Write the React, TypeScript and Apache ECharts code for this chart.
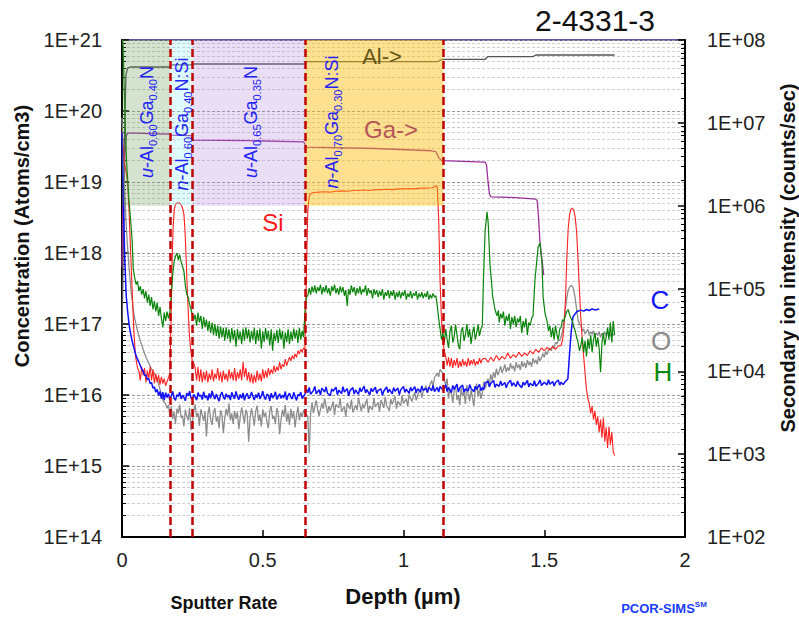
import React, { useEffect, useRef } from 'react';
import * as echarts from 'echarts';

const FONT = '"Liberation Sans", Arial, Helvetica, sans-serif';

// Layer boundaries (µm)
const layerBounds = [0, 0.17, 0.25, 0.65, 1.142];
const layerColors = [
  'rgba(87,139,67,0.25)',
  'rgba(128,240,240,0.25)',
  'rgba(167,123,219,0.25)',
  'rgba(253,186,11,0.45)',
];

const xTicks = [0, 0.5, 1, 1.5, 2];

// Hydrogen (atoms/cm3)
const hProfile: [number, number][] = [
  [0.000, 1.5e21], [0.004, 8e20], [0.010, 1e20], [0.016, 2e19], [0.024, 6e18], [0.032, 2.5e18], [0.036, 1.5e18], [0.040, 6e17],
  [0.045, 4.5e17], [0.050, 3.6e17], [0.055, 4.0e17], [0.060, 2.9e17], [0.065, 3.4e17], [0.070, 2.6e17], [0.075, 3.1e17], [0.080, 2.3e17],
  [0.085, 2.9e17], [0.090, 2.0e17], [0.095, 2.6e17], [0.100, 1.8e17], [0.105, 2.4e17], [0.110, 1.6e17], [0.115, 2.1e17], [0.120, 1.5e17],
  [0.125, 2.0e17], [0.130, 1.3e17], [0.135, 1.75e17], [0.140, 1.2e17], [0.145, 9.0e16], [0.150, 1.45e17], [0.155, 1.1e17], [0.160, 1.5e17],
  [0.165, 1.2e17], [0.170, 1.45e17], [0.175, 2.5e17], [0.180, 5e17], [0.185, 7.5e17], [0.190, 9e17], [0.195, 1.0e18], [0.200, 8.0e17],
  [0.205, 9.5e17], [0.210, 7.5e17], [0.215, 6.5e17], [0.220, 5.5e17], [0.225, 3.5e17], [0.230, 2.6e17], [0.235, 2.4e17], [0.240, 1.9e17],
  [0.245, 1.6e17], [0.250, 1.35e17], [0.255, 1.15e17], [0.26, 1.35e17], [0.265, 9.5e16], [0.27, 1.45e17], [0.275, 1.05e17], [0.28, 1.3e17],
  [0.285, 8.5e16], [0.29, 1.25e17], [0.295, 9.0e16], [0.30, 1.15e17], [0.305, 8.0e16], [0.31, 1.1e17], [0.315, 7.5e16], [0.32, 1.05e17],
  [0.325, 7.0e16], [0.33, 1.0e17], [0.335, 6.8e16], [0.34, 9.5e16], [0.345, 6.2e16], [0.35, 9.2e16], [0.355, 6.5e16], [0.36, 8.8e16],
  [0.365, 5.8e16], [0.37, 9.0e16], [0.375, 6.2e16], [0.38, 8.5e16], [0.385, 5.5e16], [0.39, 8.8e16], [0.395, 6.0e16], [0.40, 8.2e16],
  [0.405, 4.8e16], [0.41, 8.5e16], [0.415, 6.0e16], [0.42, 7.8e16], [0.425, 5.2e16], [0.43, 8.6e16], [0.435, 5.8e16], [0.44, 9.0e16],
  [0.445, 6.2e16], [0.45, 8.4e16], [0.455, 5.5e16], [0.46, 8.0e16], [0.465, 6.0e16], [0.47, 8.8e16], [0.475, 5.2e16], [0.48, 8.2e16],
  [0.485, 5.8e16], [0.49, 8.6e16], [0.495, 4.5e16], [0.50, 7.8e16], [0.505, 5.6e16], [0.51, 8.8e16], [0.515, 6.0e16], [0.52, 8.0e16],
  [0.525, 5.0e16], [0.53, 8.4e16], [0.535, 4.2e16], [0.54, 7.5e16], [0.545, 5.8e16], [0.55, 8.2e16], [0.555, 5.4e16], [0.56, 8.6e16],
  [0.565, 6.0e16], [0.57, 8.0e16], [0.575, 4.5e16], [0.58, 7.6e16], [0.585, 5.6e16], [0.59, 8.4e16], [0.595, 5.2e16], [0.60, 7.8e16],
  [0.605, 5.8e16], [0.61, 8.6e16], [0.615, 6.2e16], [0.62, 8.2e16], [0.625, 5.4e16], [0.63, 8.8e16], [0.635, 6.0e16], [0.64, 8.0e16],
  [0.645, 6.5e16], [0.650, 1.5e17], [0.655, 2.4e17], [0.66, 2.5e17], [0.665, 3.2e17], [0.67, 2.6e17], [0.675, 3.4e17], [0.68, 2.8e17],
  [0.685, 3.5e17], [0.69, 2.7e17], [0.695, 3.3e17], [0.70, 2.9e17], [0.705, 3.6e17], [0.71, 2.6e17], [0.715, 3.3e17], [0.72, 2.8e17],
  [0.725, 3.5e17], [0.73, 2.7e17], [0.735, 3.2e17], [0.74, 2.5e17], [0.745, 3.4e17], [0.75, 2.9e17], [0.755, 3.6e17], [0.76, 2.7e17],
  [0.765, 3.2e17], [0.77, 2.6e17], [0.775, 3.4e17], [0.78, 2.8e17], [0.785, 3.3e17], [0.79, 2.5e17], [0.795, 3.0e17], [0.80, 1.8e17],
  [0.805, 3.1e17], [0.81, 2.6e17], [0.815, 3.5e17], [0.82, 2.8e17], [0.825, 3.3e17], [0.83, 2.5e17], [0.835, 3.2e17], [0.84, 2.7e17],
  [0.845, 3.4e17], [0.85, 2.6e17], [0.855, 3.1e17], [0.86, 2.8e17], [0.865, 3.5e17], [0.87, 2.5e17], [0.875, 3.2e17], [0.88, 2.7e17],
  [0.885, 3.0e17], [0.89, 2.3e17], [0.895, 3.1e17], [0.90, 2.6e17], [0.905, 3.0e17], [0.91, 2.4e17], [0.915, 2.9e17], [0.92, 2.5e17],
  [0.925, 3.1e17], [0.93, 2.2e17], [0.935, 2.8e17], [0.94, 2.5e17], [0.945, 3.0e17], [0.95, 2.3e17], [0.955, 2.9e17], [0.96, 2.5e17],
  [0.965, 3.0e17], [0.97, 2.2e17], [0.975, 2.8e17], [0.98, 2.4e17], [0.985, 2.9e17], [0.99, 2.3e17], [0.995, 2.8e17], [1.00, 2.5e17],
  [1.005, 3.0e17], [1.01, 2.2e17], [1.015, 2.7e17], [1.02, 2.4e17], [1.025, 2.9e17], [1.03, 2.3e17], [1.035, 2.7e17], [1.04, 2.5e17],
  [1.045, 2.9e17], [1.05, 2.2e17], [1.055, 2.7e17], [1.06, 2.4e17], [1.065, 2.8e17], [1.07, 2.3e17], [1.075, 2.7e17], [1.08, 2.4e17],
  [1.085, 2.9e17], [1.09, 2.2e17], [1.095, 2.6e17], [1.10, 2.3e17], [1.105, 2.7e17], [1.11, 2.4e17], [1.115, 2.5e17], [1.12, 1.8e17],
  [1.125, 1.2e17], [1.13, 8.5e16], [1.135, 6.0e16], [1.14, 7.5e16], [1.145, 5.5e16], [1.15, 8.5e16], [1.155, 6.0e16], [1.16, 4.6e16],
  [1.165, 7.8e16], [1.17, 9.5e16], [1.175, 5.5e16], [1.18, 6.5e16], [1.185, 9.8e16], [1.19, 7.0e16], [1.195, 5.0e16], [1.20, 4.4e16],
  [1.205, 8.0e16], [1.21, 9.0e16], [1.215, 5.8e16], [1.22, 7.0e16], [1.225, 1.0e17], [1.23, 6.5e16], [1.235, 8.5e16], [1.24, 5.2e16],
  [1.245, 7.5e16], [1.25, 9.2e16], [1.255, 6.0e16], [1.26, 7.5e16], [1.265, 9.8e16], [1.27, 6.8e16], [1.275, 8.5e16], [1.28, 9.5e16],
  [1.284, 4.2e17], [1.29, 2.1e18], [1.297, 3.8e18], [1.301, 2.6e18], [1.307, 7.2e17], [1.317, 2.4e17], [1.325, 1.6e17], [1.332, 1.3e17],
  [1.337, 1.55e17], [1.34, 1.05e17], [1.345, 1.4e17], [1.35, 1.2e17], [1.355, 1.5e17], [1.36, 9.5e16], [1.365, 1.3e17], [1.37, 1.1e17],
  [1.375, 1.4e17], [1.38, 8.5e16], [1.385, 1.25e17], [1.39, 1.0e17], [1.395, 1.3e17], [1.40, 9.0e16], [1.405, 1.2e17], [1.41, 1.05e17],
  [1.415, 1.3e17], [1.42, 7.5e16], [1.425, 1.1e17], [1.43, 9.0e16], [1.435, 1.2e17], [1.44, 7.0e16], [1.445, 1.05e17], [1.45, 9.5e16],
  [1.455, 1.2e17], [1.46, 1.3e17], [1.467, 4.2e17], [1.478, 1.2e18], [1.485, 1.38e18], [1.492, 7.2e17], [1.496, 2.4e17], [1.503, 1.4e17],
  [1.51, 1.1e17], [1.515, 8.0e16], [1.52, 9.5e16], [1.525, 6.5e16], [1.53, 8.8e16], [1.535, 6.0e16], [1.54, 9.5e16], [1.545, 7.0e16],
  [1.55, 6.0e16], [1.555, 8.5e16], [1.56, 9.0e16], [1.565, 1.15e17], [1.57, 1.1e17], [1.575, 1.3e17], [1.58, 1.5e17], [1.585, 1.6e17],
  [1.59, 1.35e17], [1.595, 1.2e17], [1.60, 1.1e17], [1.605, 9.0e16], [1.61, 8.0e16], [1.615, 6.5e16], [1.62, 5.5e16], [1.625, 4.2e16],
  [1.63, 5.0e16], [1.635, 6.5e16], [1.64, 4.0e16], [1.645, 5.8e16], [1.65, 3.5e16], [1.655, 6.2e16], [1.66, 4.5e16], [1.665, 7.0e16],
  [1.67, 4.0e16], [1.675, 6.0e16], [1.68, 7.5e16], [1.685, 4.8e16], [1.69, 6.5e16], [1.695, 4.5e16], [1.70, 2.1e16], [1.705, 5.5e16],
  [1.71, 7.5e16], [1.715, 5.0e16], [1.72, 6.5e16], [1.725, 9.0e16], [1.73, 6.0e16], [1.735, 1.05e17], [1.74, 5.5e16], [1.745, 1.1e17],
  [1.75, 7.0e16],
];

// Silicon (atoms/cm3)
const siProfile: [number, number][] = [
  [0.000, 5e19], [0.008, 2e19], [0.020, 1e19], [0.025, 4e18], [0.030, 1.2e18], [0.036, 3e17], [0.042, 8e16], [0.048, 3.5e16],
  [0.055, 2.4e16], [0.060, 2.2e16], [0.065, 1.6e16], [0.070, 2.5e16], [0.075, 1.9e16], [0.080, 2.4e16], [0.085, 1.5e16], [0.090, 2.2e16],
  [0.095, 1.7e16], [0.100, 2.5e16], [0.105, 1.6e16], [0.110, 2.3e16], [0.115, 1.45e16], [0.120, 2.0e16], [0.125, 1.5e16], [0.130, 1.9e16],
  [0.135, 1.4e16], [0.140, 1.8e16], [0.145, 1.45e16], [0.150, 1.7e16], [0.155, 1.35e16], [0.160, 1.55e16], [0.165, 1.75e16], [0.170, 2.0e16],
  [0.174, 1e17], [0.178, 8e17], [0.182, 2.5e18], [0.186, 4.2e18], [0.190, 4.8e18], [0.195, 5.1e18], [0.200, 5.1e18], [0.205, 5.0e18],
  [0.210, 4.8e18], [0.215, 4.3e18], [0.220, 3.5e18], [0.224, 2e18], [0.228, 8e17], [0.232, 3e17], [0.236, 1.3e17], [0.240, 6.5e16],
  [0.245, 4e16], [0.250, 3e16], [0.255, 2.8e16], [0.26, 2.4e16], [0.265, 1.6e16], [0.27, 2.5e16], [0.275, 1.55e16], [0.28, 2.3e16],
  [0.285, 1.5e16], [0.29, 2.1e16], [0.295, 1.6e16], [0.30, 2.2e16], [0.305, 1.5e16], [0.31, 2.0e16], [0.315, 1.65e16], [0.32, 2.3e16],
  [0.325, 1.55e16], [0.33, 2.0e16], [0.335, 1.7e16], [0.34, 2.4e16], [0.345, 1.6e16], [0.35, 2.1e16], [0.355, 1.5e16], [0.36, 2.2e16],
  [0.365, 1.65e16], [0.37, 2.0e16], [0.375, 1.55e16], [0.38, 2.3e16], [0.385, 1.7e16], [0.39, 2.1e16], [0.395, 1.6e16], [0.40, 2.4e16],
  [0.405, 1.55e16], [0.41, 2.1e16], [0.415, 1.7e16], [0.42, 2.3e16], [0.425, 1.6e16], [0.43, 2.9e16], [0.435, 1.8e16], [0.44, 2.4e16],
  [0.445, 1.6e16], [0.45, 2.1e16], [0.455, 1.5e16], [0.46, 2.0e16], [0.465, 1.45e16], [0.47, 1.9e16], [0.475, 1.5e16], [0.48, 2.2e16],
  [0.485, 1.6e16], [0.49, 2.0e16], [0.495, 1.55e16], [0.50, 2.3e16], [0.505, 1.7e16], [0.51, 2.2e16], [0.515, 1.75e16], [0.52, 2.4e16],
  [0.525, 1.9e16], [0.53, 2.3e16], [0.535, 2.0e16], [0.54, 2.6e16], [0.545, 2.1e16], [0.55, 2.5e16], [0.555, 2.2e16], [0.56, 2.9e16],
  [0.565, 2.3e16], [0.57, 2.7e16], [0.575, 2.5e16], [0.58, 3.2e16], [0.585, 2.6e16], [0.59, 3.0e16], [0.595, 3.4e16], [0.60, 3.0e16],
  [0.605, 3.6e16], [0.61, 3.2e16], [0.615, 3.8e16], [0.62, 3.4e16], [0.625, 4.2e16], [0.63, 3.8e16], [0.635, 4.4e16], [0.64, 4.0e16],
  [0.645, 4.6e16], [0.650, 4.5e16], [0.655, 5e17], [0.660, 4e18], [0.665, 6.2e18], [0.670, 6.9e18], [0.68, 7.1e18], [0.70, 7.2e18],
  [0.72, 7.3e18], [0.74, 7.2e18], [0.76, 7.4e18], [0.78, 7.5e18], [0.80, 7.4e18], [0.82, 7.6e18], [0.84, 7.6e18], [0.86, 7.7e18],
  [0.88, 7.6e18], [0.90, 7.8e18], [0.92, 7.8e18], [0.94, 7.9e18], [0.96, 7.8e18], [0.98, 8.0e18], [1.00, 8.0e18], [1.02, 8.1e18],
  [1.04, 8.0e18], [1.06, 8.2e18], [1.08, 8.2e18], [1.10, 8.3e18], [1.11, 8.5e18], [1.115, 8.9e18], [1.12, 8.4e18], [1.125, 3e18],
  [1.13, 4e17], [1.135, 1.1e17], [1.14, 5.5e16], [1.145, 4.2e16], [1.15, 3.5e16], [1.155, 2.6e16], [1.16, 3.4e16], [1.165, 2.5e16],
  [1.17, 3.3e16], [1.175, 2.4e16], [1.18, 3.1e16], [1.185, 2.6e16], [1.19, 3.3e16], [1.195, 2.4e16], [1.20, 3.0e16], [1.205, 2.5e16],
  [1.21, 3.2e16], [1.215, 2.6e16], [1.22, 3.0e16], [1.225, 2.5e16], [1.23, 3.3e16], [1.235, 2.6e16], [1.24, 3.1e16], [1.245, 2.7e16],
  [1.25, 3.2e16], [1.255, 2.6e16], [1.26, 3.0e16], [1.265, 2.7e16], [1.27, 3.3e16], [1.275, 2.8e16], [1.28, 3.2e16], [1.29, 3.3e16],
  [1.30, 2.9e16], [1.31, 3.4e16], [1.32, 3.0e16], [1.33, 3.6e16], [1.34, 3.1e16], [1.35, 3.5e16], [1.36, 3.2e16], [1.37, 3.9e16],
  [1.38, 3.3e16], [1.39, 3.7e16], [1.40, 3.4e16], [1.41, 4.0e16], [1.42, 3.5e16], [1.43, 3.9e16], [1.44, 3.6e16], [1.45, 4.2e16],
  [1.46, 3.8e16], [1.47, 4.4e16], [1.48, 4.0e16], [1.49, 4.6e16], [1.50, 4.2e16], [1.51, 4.7e16], [1.52, 4.3e16], [1.53, 4.8e16],
  [1.54, 4.4e16], [1.55, 4.9e16], [1.56, 5.0e16], [1.565, 6e16], [1.57, 9e16], [1.575, 2e17], [1.58, 8e17], [1.585, 2.2e18],
  [1.59, 3.5e18], [1.595, 4.1e18], [1.60, 4.3e18], [1.605, 4.0e18], [1.61, 3.2e18], [1.615, 2.0e18], [1.62, 8e17], [1.625, 3e17],
  [1.63, 1.2e17], [1.635, 6e16], [1.64, 3.5e16], [1.645, 2e16], [1.65, 1.2e16], [1.655, 9e15], [1.66, 7.5e15], [1.665, 5.5e15],
  [1.67, 7e15], [1.675, 4.5e15], [1.68, 6e15], [1.685, 3.8e15], [1.69, 5e15], [1.695, 3e15], [1.70, 4.5e15], [1.705, 2.5e15],
  [1.71, 4.8e15], [1.715, 2.2e15], [1.72, 3.5e15], [1.725, 1.8e15], [1.73, 3.6e15], [1.735, 2.0e15], [1.74, 3.0e15], [1.745, 1.6e15],
  [1.75, 1.4e15],
];

// Carbon (atoms/cm3)
const cProfile: [number, number][] = [
  [0.000, 5e19], [0.005, 5e18], [0.010, 8e17], [0.015, 2.5e17], [0.020, 1.5e17], [0.025, 1.0e17], [0.030, 7.5e16], [0.035, 6e16],
  [0.040, 5e16], [0.045, 4.2e16], [0.050, 3.6e16], [0.055, 3.2e16], [0.060, 2.9e16], [0.065, 2.6e16], [0.070, 2.3e16], [0.075, 2.2e16],
  [0.080, 1.9e16], [0.085, 1.9e16], [0.090, 1.65e16], [0.095, 1.7e16], [0.100, 1.45e16], [0.105, 1.5e16], [0.110, 1.25e16], [0.115, 1.3e16],
  [0.120, 1.1e16], [0.125, 1.2e16], [0.130, 9.8e15], [0.135, 1.12e16], [0.140, 8.8e15], [0.145, 1.1e16], [0.150, 8.5e15], [0.155, 1.08e16],
  [0.16, 9.2e15], [0.165, 1.04e16], [0.17, 8.6e15], [0.175, 9.8e15], [0.18, 1.12e16], [0.185, 9.0e15], [0.19, 8.4e15], [0.195, 1.01e16],
  [0.20, 9.5e15], [0.205, 1.1e16], [0.21, 8.8e15], [0.215, 9.9e15], [0.22, 9.3e15], [0.225, 8.3e15], [0.23, 1.06e16], [0.235, 9.7e15],
  [0.24, 1.13e16], [0.245, 9.1e15], [0.25, 8.7e15], [0.255, 1.02e16], [0.26, 9.4e15], [0.265, 8.5e15], [0.27, 1.08e16], [0.275, 9.6e15],
  [0.28, 1.0e16], [0.285, 8.6e15], [0.29, 1.11e16], [0.295, 9.2e15], [0.30, 9.8e15], [0.305, 8.4e15], [0.31, 1.05e16], [0.315, 9.0e15],
  [0.32, 1.14e16], [0.325, 9.7e15], [0.33, 8.8e15], [0.335, 1.03e16], [0.34, 9.1e15], [0.345, 8.2e15], [0.35, 1.0e16], [0.355, 1.1e16],
  [0.36, 9.4e15], [0.365, 8.7e15], [0.37, 1.04e16], [0.375, 9.3e15], [0.38, 9.9e15], [0.385, 8.5e15], [0.39, 1.09e16], [0.395, 9.6e15],
  [0.40, 8.9e15], [0.405, 1.12e16], [0.41, 9.5e15], [0.415, 8.6e15], [0.42, 1.02e16], [0.425, 9.0e15], [0.43, 1.07e16], [0.435, 8.4e15],
  [0.44, 9.8e15], [0.445, 1.05e16], [0.45, 8.9e15], [0.455, 9.3e15], [0.46, 1.1e16], [0.465, 9.6e15], [0.47, 8.5e15], [0.475, 1.01e16],
  [0.48, 9.2e15], [0.485, 1.08e16], [0.49, 8.8e15], [0.495, 9.7e15], [0.50, 1.13e16], [0.505, 9.4e15], [0.51, 8.6e15], [0.515, 1.03e16],
  [0.52, 9.9e15], [0.525, 8.3e15], [0.53, 1.06e16], [0.535, 9.1e15], [0.54, 9.7e15], [0.545, 1.11e16], [0.55, 8.7e15], [0.555, 9.5e15],
  [0.56, 1.04e16], [0.565, 8.9e15], [0.57, 1.0e16], [0.575, 9.2e15], [0.58, 1.12e16], [0.585, 8.5e15], [0.59, 9.8e15], [0.595, 1.06e16],
  [0.60, 9.3e15], [0.605, 8.8e15], [0.61, 1.09e16], [0.615, 9.5e15], [0.62, 8.4e15], [0.625, 1.02e16], [0.63, 9.7e15], [0.635, 1.1e16],
  [0.64, 8.9e15], [0.645, 9.6e15], [0.65, 1.03e16], [0.655, 1.2e16], [0.66, 1.08e16], [0.665, 1.28e16], [0.67, 1.02e16], [0.68, 1.16e16],
  [0.685, 1.32e16], [0.69, 1.04e16], [0.70, 1.19e16], [0.705, 1.0e16], [0.71, 1.25e16], [0.72, 1.1e16], [0.725, 1.3e16], [0.73, 1.06e16],
  [0.74, 9.8e15], [0.745, 1.22e16], [0.75, 1.13e16], [0.76, 1.29e16], [0.765, 1.01e16], [0.77, 1.17e16], [0.78, 1.05e16], [0.785, 1.31e16],
  [0.79, 1.1e16], [0.80, 1.23e16], [0.805, 9.7e15], [0.81, 1.15e16], [0.82, 1.27e16], [0.825, 1.03e16], [0.83, 1.18e16], [0.84, 1.02e16],
  [0.845, 1.26e16], [0.85, 1.11e16], [0.86, 1.33e16], [0.865, 1.07e16], [0.87, 1.19e16], [0.88, 1.0e16], [0.885, 1.24e16], [0.89, 1.12e16],
  [0.90, 1.29e16], [0.905, 1.05e16], [0.91, 1.16e16], [0.92, 1.22e16], [0.925, 9.9e15], [0.93, 1.14e16], [0.94, 1.3e16], [0.945, 1.08e16],
  [0.95, 1.2e16], [0.96, 1.04e16], [0.965, 1.27e16], [0.97, 1.13e16], [0.98, 1.25e16], [0.985, 1.01e16], [0.99, 1.18e16], [1.00, 1.32e16],
  [1.005, 1.09e16], [1.01, 1.21e16], [1.02, 1.06e16], [1.025, 1.28e16], [1.03, 1.14e16], [1.04, 1.31e16], [1.045, 1.07e16], [1.05, 1.23e16],
  [1.06, 1.1e16], [1.065, 1.34e16], [1.07, 1.16e16], [1.08, 1.24e16], [1.085, 1.08e16], [1.09, 1.29e16], [1.10, 1.15e16], [1.105, 1.36e16],
  [1.11, 1.12e16], [1.12, 1.28e16], [1.125, 1.1e16], [1.13, 1.32e16], [1.14, 1.18e16], [1.145, 1.25e16], [1.15, 1.4e16], [1.155, 1.12e16],
  [1.16, 1.28e16], [1.17, 1.08e16], [1.175, 1.36e16], [1.18, 1.2e16], [1.19, 1.42e16], [1.195, 1.1e16], [1.20, 1.26e16], [1.21, 1.38e16],
  [1.215, 1.09e16], [1.22, 1.22e16], [1.23, 1.14e16], [1.235, 1.4e16], [1.24, 1.24e16], [1.25, 1.11e16], [1.255, 1.33e16], [1.26, 1.2e16],
  [1.27, 1.41e16], [1.275, 1.15e16], [1.28, 1.27e16], [1.285, 1.18e16], [1.29, 1.48e16], [1.30, 1.56e16], [1.305, 1.3e16], [1.31, 1.46e16],
  [1.32, 1.6e16], [1.325, 1.28e16], [1.33, 1.42e16], [1.34, 1.32e16], [1.345, 1.58e16], [1.35, 1.36e16], [1.36, 1.5e16], [1.365, 1.26e16],
  [1.37, 1.44e16], [1.38, 1.62e16], [1.385, 1.34e16], [1.39, 1.49e16], [1.40, 1.31e16], [1.405, 1.57e16], [1.41, 1.4e16], [1.42, 1.27e16],
  [1.425, 1.52e16], [1.43, 1.38e16], [1.44, 1.6e16], [1.445, 1.3e16], [1.45, 1.46e16], [1.46, 1.35e16], [1.465, 1.59e16], [1.47, 1.33e16],
  [1.48, 1.48e16], [1.485, 1.63e16], [1.49, 1.36e16], [1.50, 1.51e16], [1.51, 1.39e16], [1.515, 1.64e16], [1.52, 1.42e16], [1.53, 1.55e16],
  [1.535, 1.34e16], [1.54, 1.5e16], [1.55, 1.62e16], [1.555, 1.38e16], [1.56, 1.52e16], [1.567, 1.4e16], [1.575, 1.55e16], [1.584, 1.7e16],
  [1.59, 3.9e16], [1.596, 8e16], [1.602, 1.26e17], [1.616, 1.5e17], [1.63, 1.57e17], [1.64, 1.52e17], [1.65, 1.6e17], [1.66, 1.55e17],
  [1.67, 1.63e17], [1.68, 1.58e17], [1.695, 1.63e17],
];

// Oxygen (atoms/cm3)
const oProfile: [number, number][] = [
  [0.000, 8e19], [0.008, 1e19], [0.016, 2e18], [0.024, 7e17], [0.032, 3e17], [0.040, 1.6e17], [0.046, 1.15e17], [0.055, 8e16],
  [0.065, 5.8e16], [0.075, 4.4e16], [0.085, 3.4e16], [0.095, 2.8e16], [0.105, 2.3e16], [0.115, 2.0e16], [0.125, 1.7e16], [0.135, 1.2e16],
  [0.145, 8.5e15], [0.155, 7.5e15], [0.160, 6.5e15], [0.165, 7.2e15], [0.17, 5.2e15], [0.175, 6.9e15], [0.18, 4.6e15], [0.185, 5.8e15],
  [0.19, 3.9e15], [0.195, 6.4e15], [0.20, 5.5e15], [0.205, 7.3e15], [0.21, 4.8e15], [0.215, 5.1e15], [0.22, 3.6e15], [0.225, 6.2e15],
  [0.23, 5.0e15], [0.235, 4.4e15], [0.24, 6.6e15], [0.245, 3.2e15], [0.25, 4.1e15], [0.255, 6.0e15], [0.26, 7.4e15], [0.265, 4.9e15],
  [0.27, 5.6e15], [0.275, 3.7e15], [0.28, 6.3e15], [0.285, 5.2e15], [0.29, 4.3e15], [0.295, 5.9e15], [0.30, 2.6e15], [0.305, 5.4e15],
  [0.31, 6.8e15], [0.315, 4.5e15], [0.32, 3.8e15], [0.325, 5.7e15], [0.33, 6.5e15], [0.335, 4.2e15], [0.34, 5.0e15], [0.345, 3.4e15],
  [0.35, 6.1e15], [0.355, 5.3e15], [0.36, 2.9e15], [0.365, 4.7e15], [0.37, 6.4e15], [0.375, 5.1e15], [0.38, 7.6e15], [0.385, 4.4e15],
  [0.39, 5.5e15], [0.395, 3.9e15], [0.40, 6.0e15], [0.405, 4.6e15], [0.41, 5.8e15], [0.415, 3.3e15], [0.42, 4.9e15], [0.425, 6.7e15],
  [0.43, 5.2e15], [0.435, 4.0e15], [0.44, 6.2e15], [0.445, 5.4e15], [0.45, 2.2e15], [0.455, 4.8e15], [0.46, 6.5e15], [0.465, 5.0e15],
  [0.47, 3.7e15], [0.475, 5.9e15], [0.48, 7.1e15], [0.485, 4.3e15], [0.49, 5.3e15], [0.495, 3.6e15], [0.50, 6.3e15], [0.505, 4.9e15],
  [0.51, 5.7e15], [0.515, 4.1e15], [0.52, 3.4e15], [0.525, 6.0e15], [0.53, 7.0e15], [0.535, 4.6e15], [0.54, 5.1e15], [0.545, 3.9e15],
  [0.55, 6.6e15], [0.555, 5.4e15], [0.56, 2.8e15], [0.565, 4.5e15], [0.57, 6.2e15], [0.575, 5.0e15], [0.58, 7.2e15], [0.585, 4.2e15],
  [0.59, 5.6e15], [0.595, 3.8e15], [0.60, 6.4e15], [0.605, 4.7e15], [0.61, 5.9e15], [0.615, 3.5e15], [0.62, 5.2e15], [0.625, 6.8e15],
  [0.63, 4.4e15], [0.635, 5.7e15], [0.64, 4.9e15], [0.645, 6.1e15], [0.65, 5.5e15], [0.66, 5.0e15], [0.665, 1.5e15], [0.67, 5.5e15],
  [0.675, 7.8e15], [0.68, 5.6e15], [0.69, 8.4e15], [0.695, 6.2e15], [0.70, 5.1e15], [0.71, 7.6e15], [0.715, 6.4e15], [0.72, 8.9e15],
  [0.73, 5.5e15], [0.735, 7.0e15], [0.74, 6.0e15], [0.75, 8.1e15], [0.755, 5.2e15], [0.76, 7.4e15], [0.77, 6.6e15], [0.775, 9.0e15],
  [0.78, 5.8e15], [0.79, 6.9e15], [0.795, 4.9e15], [0.80, 7.7e15], [0.81, 6.3e15], [0.815, 8.6e15], [0.82, 5.7e15], [0.83, 7.2e15],
  [0.835, 6.1e15], [0.84, 9.2e15], [0.85, 5.9e15], [0.855, 7.5e15], [0.86, 6.5e15], [0.87, 8.8e15], [0.875, 5.6e15], [0.88, 7.0e15],
  [0.89, 6.2e15], [0.895, 9.1e15], [0.90, 6.8e15], [0.91, 7.9e15], [0.915, 5.8e15], [0.92, 8.5e15], [0.93, 6.6e15], [0.935, 9.4e15],
  [0.94, 7.1e15], [0.95, 6.0e15], [0.955, 8.7e15], [0.96, 7.4e15], [0.97, 9.6e15], [0.975, 6.4e15], [0.98, 8.2e15], [0.99, 7.0e15],
  [0.995, 9.9e15], [1.00, 7.6e15], [1.01, 8.8e15], [1.015, 6.9e15], [1.02, 1.02e16], [1.03, 8.1e15], [1.035, 9.5e15], [1.04, 1.1e16],
  [1.045, 8.4e15], [1.05, 1.0e16], [1.06, 1.2e16], [1.065, 9.2e15], [1.07, 1.12e16], [1.08, 1.35e16], [1.085, 1.08e16], [1.09, 1.26e16],
  [1.10, 1.6e16], [1.105, 1.32e16], [1.11, 1.75e16], [1.12, 2.05e16], [1.125, 1.8e16], [1.13, 2.3e16], [1.14, 2.0e16], [1.145, 1.6e16],
  [1.15, 1.4e16], [1.155, 1.7e16], [1.16, 9.0e15], [1.165, 1.2e16], [1.17, 1.05e16], [1.175, 7.8e15], [1.18, 1.15e16], [1.185, 1.35e16],
  [1.19, 8.5e15], [1.195, 1.0e16], [1.20, 7.2e15], [1.205, 1.25e16], [1.21, 9.6e15], [1.215, 1.1e16], [1.22, 7.5e15], [1.225, 1.38e16],
  [1.23, 1.02e16], [1.235, 8.2e15], [1.24, 1.2e16], [1.245, 9.0e15], [1.25, 7.0e15], [1.255, 1.18e16], [1.26, 1.45e16], [1.265, 9.5e15],
  [1.27, 1.22e16], [1.275, 8.8e15], [1.28, 1.06e16], [1.285, 1.55e16], [1.29, 1.24e16], [1.295, 1.4e16], [1.30, 1.7e16], [1.305, 1.35e16],
  [1.31, 1.95e16], [1.315, 1.6e16], [1.32, 2.1e16], [1.325, 1.75e16], [1.33, 2.35e16], [1.335, 1.9e16], [1.34, 2.15e16], [1.345, 2.55e16],
  [1.35, 2.05e16], [1.355, 2.3e16], [1.36, 2.7e16], [1.365, 2.1e16], [1.37, 2.45e16], [1.375, 2.2e16], [1.38, 2.8e16], [1.385, 2.35e16],
  [1.39, 2.6e16], [1.395, 2.15e16], [1.40, 2.9e16], [1.405, 2.4e16], [1.41, 2.7e16], [1.415, 2.25e16], [1.42, 3.0e16], [1.425, 2.5e16],
  [1.43, 2.85e16], [1.435, 2.4e16], [1.44, 3.1e16], [1.445, 2.65e16], [1.45, 2.95e16], [1.455, 2.5e16], [1.46, 3.3e16], [1.465, 2.8e16],
  [1.47, 3.15e16], [1.475, 2.7e16], [1.48, 3.5e16], [1.485, 3.0e16], [1.49, 3.35e16], [1.495, 3.8e16], [1.50, 3.4e16], [1.505, 4.1e16],
  [1.51, 3.7e16], [1.515, 4.4e16], [1.52, 4.6e16], [1.525, 4.2e16], [1.53, 5.0e16], [1.535, 4.5e16], [1.54, 5.5e16], [1.545, 5.2e16],
  [1.55, 6.0e16], [1.555, 5.8e16], [1.56, 6.6e16], [1.565, 8e16], [1.57, 1.1e17], [1.575, 1.6e17], [1.58, 2.3e17], [1.585, 3.0e17],
  [1.59, 3.3e17], [1.595, 3.5e17], [1.60, 3.4e17], [1.605, 3.0e17], [1.61, 2.3e17], [1.615, 1.6e17], [1.62, 1.15e17], [1.625, 1.0e17],
  [1.63, 9.5e16], [1.635, 8.0e16], [1.64, 8.5e16], [1.645, 7.2e16], [1.65, 7.8e16], [1.655, 8.4e16], [1.66, 7.0e16], [1.665, 7.8e16],
  [1.67, 7.2e16], [1.675, 8.0e16], [1.68, 6.6e16], [1.685, 7.4e16], [1.69, 7.0e16], [1.695, 7.8e16], [1.70, 6.5e16], [1.705, 7.4e16],
  [1.71, 7.0e16], [1.715, 7.8e16], [1.72, 6.8e16], [1.725, 7.6e16], [1.73, 7.2e16], [1.735, 6.8e16], [1.74, 7.6e16], [1.745, 6.9e16],
  [1.75, 7.2e16],
];

// Aluminium (counts/sec)
const alProfile: [number, number][] = [
  [0.000, 3e4], [0.006, 6e5], [0.010, 1e7], [0.014, 3.8e7], [0.020, 4.6e7], [0.030, 4.72e7], [0.170, 4.72e7], [0.172, 5.0e7],
  [0.250, 5.0e7], [0.252, 5.13e7], [0.650, 5.13e7], [0.655, 5.47e7], [1.120, 5.47e7], [1.130, 5.7e7], [1.140, 5.82e7], [1.290, 5.82e7],
  [1.295, 6.1e7], [1.300, 6.31e7], [1.460, 6.31e7], [1.465, 6.45e7], [1.470, 6.59e7], [1.750, 6.59e7],
];

// Gallium (counts/sec)
const gaProfile: [number, number][] = [
  [0.000, 1.8e5], [0.004, 1.5e6], [0.010, 4e6], [0.015, 7e6], [0.020, 7.5e6], [0.050, 7.5e6], [0.100, 7.4e6], [0.168, 7.3e6],
  [0.175, 7.1e6], [0.245, 7.0e6], [0.252, 6.2e6], [0.450, 6.1e6], [0.645, 5.9e6], [0.655, 5.1e6], [0.900, 4.9e6], [1.100, 4.6e6],
  [1.115, 4.5e6], [1.125, 3.8e6], [1.135, 3.5e6], [1.290, 3.35e6], [1.295, 3.1e6], [1.300, 2.0e6], [1.305, 1.4e6], [1.310, 1.28e6],
  [1.400, 1.25e6], [1.470, 1.2e6], [1.475, 1.15e6], [1.480, 7e5], [1.485, 3.5e5], [1.490, 2.5e5], [1.495, 1.8e5], [1.498, 1.45e5],
];

const exp2 = (v: number) => {
  const e = Math.round(Math.log10(v));
  return '1E+' + (e < 10 ? '0' + e : String(e));
};

const LAYER_BLUE = '#2323f5';
const mainTok = { fontSize: 18, lineHeight: 22, fontFamily: FONT, fill: LAYER_BLUE };
const richLayer = {
  i: { ...mainTok, fontStyle: 'italic' },
  n: { ...mainTok },
  s: { fontSize: 11, lineHeight: 12, verticalAlign: 'bottom', fontFamily: FONT, fill: LAYER_BLUE },
};

function layerLabel(x: number, y: number, text: string) {
  return {
    type: 'text', x, y, rotation: Math.PI / 2, z: 100,
    style: { text, rich: richLayer, align: 'center', verticalAlign: 'middle', textAlign: 'center', textVerticalAlign: 'middle' },
  };
}

function plainText(x: number, y: number, text: string, size: number, color: string, weight = 'normal', rotation = 0) {
  return {
    type: 'text', x, y, rotation, z: 100,
    style: {
      text, fontSize: size, fontFamily: FONT, fontWeight: weight, fill: color,
      align: 'center', verticalAlign: 'middle', textAlign: 'center', textVerticalAlign: 'middle',
    },
  };
}

export default function App() {
  const ref = useRef<HTMLDivElement>(null);
  useEffect(() => {
    document.body.style.margin = '0';
    const chart = echarts.init(ref.current!, null, { renderer: 'svg' });
    const lineSeries = (name: string, data: [number, number][], color: string, width: number, yAxisIndex: number) => ({
      name, type: 'line', data, yAxisIndex, showSymbol: false, symbol: 'none', z: 2,
      lineStyle: { color, width }, itemStyle: { color }, silent: true,
    });
    const areas = layerColors.map((c, i) => [
      { xAxis: layerBounds[i], yAxis: 1e6, itemStyle: { color: c } },
      { xAxis: layerBounds[i + 1], yAxis: 1e8 },
    ]);
    const option: any = {
      animation: false,
      grid: { left: 122, right: 114, top: 40, bottom: 81, show: true, borderColor: '#22228a', borderWidth: 1.5, backgroundColor: 'transparent' },
      xAxis: {
        type: 'value', min: xTicks[0], max: xTicks[xTicks.length - 1], interval: 0.5,
        axisLine: { show: true, lineStyle: { color: '#000', width: 2 } },
        axisTick: { inside: true, length: 7, lineStyle: { color: '#000', width: 1.5 } },
        axisLabel: { fontFamily: FONT, fontSize: 20, color: '#222', margin: 13, formatter: (v: number) => String(v) },
        splitLine: { show: false },
      },
      yAxis: [
        {
          type: 'log', logBase: 10, min: 1e14, max: 1e21, splitNumber: 7,
          axisLine: { show: true, lineStyle: { color: '#000', width: 2 } },
          axisTick: { show: true, inside: true, length: 7, lineStyle: { color: '#000', width: 1.5 } },
          minorTick: { show: true, splitNumber: 9, length: 4, lineStyle: { color: '#000', width: 1 } },
          splitLine: { show: true, lineStyle: { color: '#9a9a9a', type: [3, 2], width: 1 } },
          minorSplitLine: { show: true, lineStyle: { color: '#cfcfcf', type: [3, 2], width: 1 } },
          axisLabel: { fontFamily: FONT, fontSize: 20, color: '#222', margin: 20, formatter: exp2 },
        },
        {
          type: 'log', logBase: 10, min: 1e2, max: 1e8, splitNumber: 6, position: 'right',
          axisLine: { show: true, lineStyle: { color: '#000', width: 2 } },
          axisTick: { show: true, inside: true, length: 7, lineStyle: { color: '#000', width: 1.5 } },
          minorTick: { show: true, splitNumber: 9, length: 4, lineStyle: { color: '#000', width: 1 } },
          splitLine: { show: false },
          axisLabel: { fontFamily: FONT, fontSize: 20, color: '#222', margin: 22, formatter: exp2 },
        },
      ],
      series: [
        {
          ...lineSeries('Al', alProfile, '#555555', 1.3, 1),
          markArea: { z: 3, silent: true, data: areas },
        },
        lineSeries('Ga', gaProfile, '#9a2f9a', 1.3, 1),
        lineSeries('O', oProfile, '#8c8c8c', 1.3, 0),
        {
          ...lineSeries('Si', siProfile, '#ff2020', 1.1, 0),
          markLine: {
            z: 5, silent: true, symbol: ['none', 'none'], label: { show: false },
            lineStyle: { color: '#c00000', width: 2.5, type: [8, 4] },
            data: layerBounds.slice(1).map((b) => ({ xAxis: b })),
          },
        },
        lineSeries('C', cProfile, '#1010ff', 1.5, 0),
        lineSeries('H', hProfile, '#0a840a', 1.2, 0),
      ],
      graphic: [
        plainText(595, 20, '2-4331-3', 30, '#111'),
        plainText(22, 236, 'Concentration (Atoms/cm3)', 20, '#111', 'bold', Math.PI / 2),
        plainText(788, 258, 'Secondary ion intensity (counts/sec)', 20, '#111', 'bold', Math.PI / 2),
        plainText(403, 596, 'Depth (µm)', 22, '#111', 'bold'),
        plainText(224, 603, 'Sputter Rate', 18, '#111', 'bold'),
        {
          type: 'text', x: 664, y: 608, z: 100,
          style: {
            text: '{a|PCOR-SIMS}{b|SM}', align: 'center', verticalAlign: 'middle', textAlign: 'center', textVerticalAlign: 'middle',
            rich: {
              a: { fontSize: 13, fontWeight: 'bold', fontFamily: FONT, fill: '#1a3cff', lineHeight: 16 },
              b: { fontSize: 8, fontWeight: 'bold', fontFamily: FONT, fill: '#1a3cff', lineHeight: 9, verticalAlign: 'top' },
            },
          },
        },
        plainText(382, 56, 'Al->', 22, '#625515'),
        plainText(391, 129, 'Ga->', 24, '#b5555a'),
        plainText(273, 222, 'Si', 24, '#ff1a1a'),
        plainText(660, 300, 'C', 26, '#1515ff'),
        plainText(661, 341, 'O', 26, '#8a8a8a'),
        plainText(663, 372, 'H', 26, '#0a8a0a'),
        layerLabel(147, 122, '{i|u}{n|-Al}{s|0.60}{n|Ga}{s|0.40}{n|N}'),
        layerLabel(182, 124, '{i|n}{n|-Al}{s|0.60}{n|Ga}{s|0.40}{n|N:Si}'),
        layerLabel(251, 122, '{i|u}{n|-Al}{s|0.65}{n|Ga}{s|0.35}{n|N}'),
        layerLabel(332, 122, '{i|n}{n|-Al}{s|0.70}{n|Ga}{s|0.30}{n|N:Si}'),
      ],
    };
    chart.setOption(option);
    return () => chart.dispose();
  }, []);
  return <div ref={ref} style={{ width: 799, height: 618 }} />;
}
